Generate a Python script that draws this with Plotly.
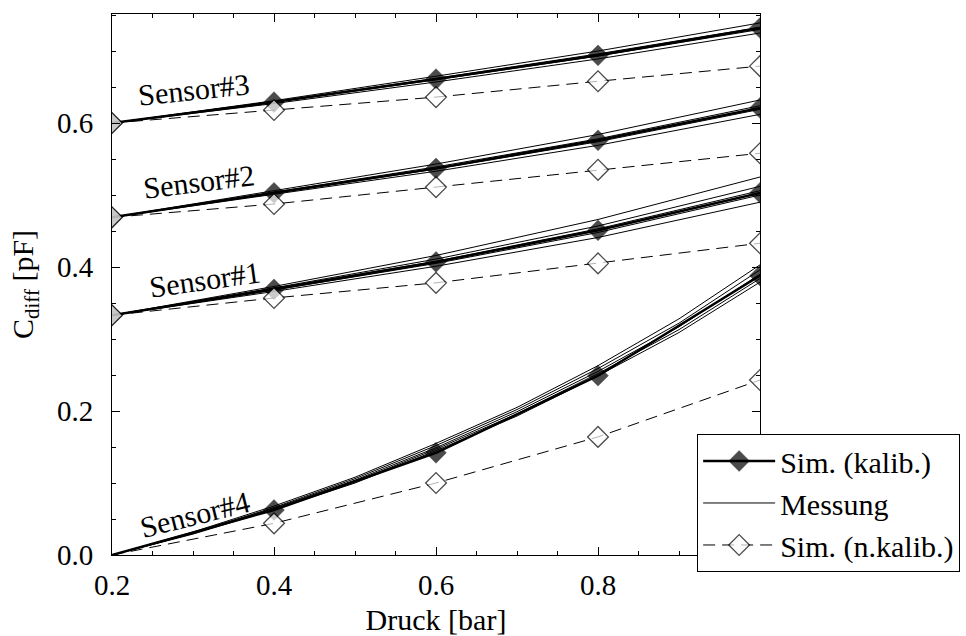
import plotly.graph_objects as go

# ---------------- data ----------------
druck = [0.2, 0.4, 0.6, 0.8, 1.0]
druck_fine = [0.2, 0.3, 0.4, 0.5, 0.6, 0.7, 0.8, 0.9, 1.0]

sensor_names = ["Sensor#1", "Sensor#2", "Sensor#3", "Sensor#4"]

# calibrated simulation
kalib_s1 = [0.333, 0.369, 0.407, 0.451, 0.503]
kalib_s2 = [0.469, 0.503, 0.537, 0.576, 0.621]
kalib_s3 = [0.600, 0.629, 0.661, 0.694, 0.732]
kalib_s4 = [0.000, 0.0625, 0.142, 0.249, 0.388]

# uncalibrated simulation
nkalib_s1 = [0.333, 0.357, 0.378, 0.405, 0.433]
nkalib_s2 = [0.469, 0.4875, 0.511, 0.535, 0.558]
nkalib_s3 = [0.600, 0.618, 0.636, 0.658, 0.679]
nkalib_s4 = [0.000, 0.044, 0.100, 0.164, 0.243]

# measurements (several devices per sensor type)
mess_s1 = [
    [0.333, 0.373, 0.416, 0.466, 0.525],
    [0.333, 0.371, 0.411, 0.457, 0.512],
    [0.333, 0.370, 0.408, 0.453, 0.506],
    [0.333, 0.368, 0.405, 0.448, 0.500],
    [0.333, 0.366, 0.401, 0.441, 0.490],
]
mess_s2 = [
    [0.469, 0.506, 0.543, 0.584, 0.632],
    [0.469, 0.504, 0.539, 0.578, 0.624],
    [0.469, 0.503, 0.536, 0.574, 0.619],
    [0.469, 0.501, 0.533, 0.569, 0.612],
]
mess_s3 = [
    [0.600, 0.631, 0.665, 0.700, 0.739],
    [0.600, 0.630, 0.662, 0.696, 0.733],
    [0.600, 0.629, 0.660, 0.693, 0.730],
    [0.600, 0.627, 0.657, 0.689, 0.725],
]
mess_s4 = [
    [0.0, 0.032, 0.068, 0.108, 0.155, 0.205, 0.263, 0.328, 0.403],
    [0.0, 0.031, 0.066, 0.106, 0.152, 0.202, 0.259, 0.322, 0.396],
    [0.0, 0.030, 0.065, 0.104, 0.149, 0.199, 0.255, 0.317, 0.390],
    [0.0, 0.030, 0.064, 0.102, 0.147, 0.196, 0.252, 0.313, 0.384],
    [0.0, 0.029, 0.063, 0.100, 0.145, 0.193, 0.249, 0.309, 0.379],
]

x_ticks = [0.2, 0.4, 0.6, 0.8]
x_ticklabels = ["0.2", "0.4", "0.6", "0.8"]
y_ticks = [0.0, 0.2, 0.4, 0.6]
y_ticklabels = ["0.0", "0.2", "0.4", "0.6"]

# ---------------- figure ----------------
FONT = "Liberation Serif"
fig = go.Figure()

mess_sets = [(druck, mess_s1), (druck, mess_s2), (druck, mess_s3), (druck_fine, mess_s4)]
kalib_sets = [kalib_s1, kalib_s2, kalib_s3, kalib_s4]
nkalib_sets = [nkalib_s1, nkalib_s2, nkalib_s3, nkalib_s4]

MSIZE = 16

first = True
for xs, group in mess_sets:
    for ys in group:
        fig.add_trace(go.Scatter(
            x=xs, y=ys, mode="lines", name="Messung",
            line=dict(color="black", width=1),
            legendgroup="mess", showlegend=first, legendrank=2,
        ))
        first = False

for i, ys in enumerate(kalib_sets):
    sizes = [MSIZE] * len(ys)
    if ys[0] == 0.0:
        sizes[0] = 0
    fig.add_trace(go.Scatter(
        x=druck, y=ys, mode="lines+markers", name="Sim. (kalib.)",
        line=dict(color="black", width=2.5),
        marker=dict(symbol="diamond", size=sizes, color="black",
                    line=dict(color="black", width=0.5)),
        legendgroup="kalib", showlegend=(i == 0), legendrank=1,
    ))

for i, ys in enumerate(nkalib_sets):
    sizes = [MSIZE] * len(ys)
    if ys[0] == 0.0:
        sizes[0] = 0
    fig.add_trace(go.Scatter(
        x=druck, y=ys, mode="lines+markers", name="Sim. (n.kalib.)",
        line=dict(color="black", width=1, dash="12px,7px"),
        marker=dict(symbol="diamond", size=sizes, color="white",
                    line=dict(color="black", width=1.3)),
        legendgroup="nkalib", showlegend=(i == 0), legendrank=3,
    ))

# sensor labels
label_pos = {
    "Sensor#3": (0.301, 0.646, -6),
    "Sensor#2": (0.307, 0.519, -7),
    "Sensor#1": (0.315, 0.383, -8),
    "Sensor#4": (0.302, 0.056, -14),
}
for name in sensor_names:
    x, y, ang = label_pos[name]
    fig.add_annotation(x=x, y=y, xref="x", yref="y", text=name,
                       showarrow=False, textangle=ang,
                       font=dict(family=FONT, size=30, color="black"))

axis_common = dict(
    showline=True, linecolor="black", linewidth=1, mirror="ticks",
    ticks="inside", ticklen=8, tickwidth=1, tickcolor="black",
    showgrid=False, zeroline=False,
    tickfont=dict(family=FONT, size=29, color="black"),
    minor=dict(ticks="inside", ticklen=4, tickwidth=1, tickcolor="black",
               dtick=0.05, showgrid=False),
)

fig.update_xaxes(
    range=[0.2, 1.0], tickmode="array", tickvals=x_ticks, ticktext=x_ticklabels,
    ticklabelstandoff=4,
    title=dict(text="Druck [bar]", font=dict(family=FONT, size=30, color="black"),
               standoff=10),
    **axis_common,
)
fig.update_yaxes(
    range=[0.0, 0.7514], tickmode="array", tickvals=y_ticks, ticktext=y_ticklabels,
    ticklabelstandoff=12,
    title=dict(text="C<sub>diff</sub> [pF]", font=dict(family=FONT, size=30, color="black"),
               standoff=14),
    **axis_common,
)

fig.update_layout(
    width=966, height=636,
    margin=dict(l=112, r=206, t=14, b=81, autoexpand=False),
    paper_bgcolor="white", plot_bgcolor="white",
    font=dict(family=FONT, size=30, color="black"),
    legend=dict(x=0.903, y=0.2237, xanchor="left", yanchor="top",
                bgcolor="white", bordercolor="black", borderwidth=1,
                font=dict(family=FONT, size=30, color="black"),
                itemwidth=72, tracegroupgap=0),
)

fig.write_html("out.html")
